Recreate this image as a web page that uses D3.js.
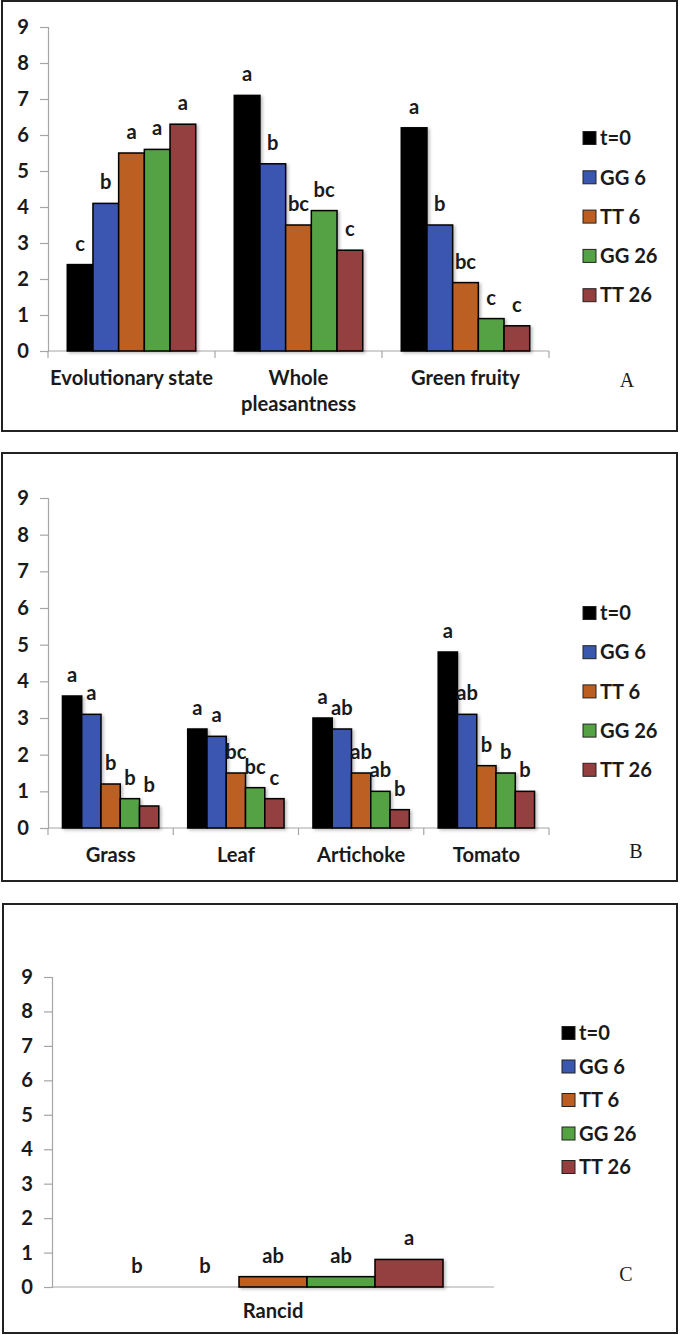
<!DOCTYPE html>
<html>
<head>
<meta charset="utf-8">
<script src="https://cdn.jsdelivr.net/npm/d3@7"></script>
<style>
  html, body { margin: 0; padding: 0; background: #fff; }
  svg { display: block; }
  text { font-family: Lato, "Open Sans", "DejaVu Sans", sans-serif; font-weight: 700; }
</style>
</head>
<body>
<svg id="chart" width="680" height="1335"></svg>
<script>
// ---------- DATA ----------
const seriesNames = ["t=0", "GG 6", "TT 6", "GG 26", "TT 26"];
const yTicks = [0, 1, 2, 3, 4, 5, 6, 7, 8, 9];

// Panel A
const categoriesA = ["Evolutionary state", "Whole\npleasantness", "Green fruity"];
const valuesA = [
  [2.4, 7.1, 6.2],   // t=0
  [4.1, 5.2, 3.5],   // GG 6
  [5.5, 3.5, 1.9],   // TT 6
  [5.6, 3.9, 0.9],   // GG 26
  [6.3, 2.8, 0.7]    // TT 26
];
const lettersA = [
  ["c", "a", "a"],
  ["b", "b", "b"],
  ["a", "bc", "bc"],
  ["a", "bc", "c"],
  ["a", "c", "c"]
];

// Panel B
const categoriesB = ["Grass", "Leaf", "Artichoke", "Tomato"];
const valuesB = [
  [3.6, 2.7, 3.0, 4.8],
  [3.1, 2.5, 2.7, 3.1],
  [1.2, 1.5, 1.5, 1.7],
  [0.8, 1.1, 1.0, 1.5],
  [0.6, 0.8, 0.5, 1.0]
];
const lettersB = [
  ["a", "a", "a", "a"],
  ["a", "a", "ab", "ab"],
  ["b", "bc", "ab", "b"],
  ["b", "bc", "ab", "b"],
  ["b", "c", "b", "b"]
];

// Panel C
const categoriesC = ["Rancid"];
const valuesC = [[0], [0], [0.3], [0.3], [0.8]];
const lettersC = [["b"], ["b"], ["ab"], ["ab"], ["a"]];

// ---------- STYLE ----------
const seriesColors = ["#000000", "#3a57b0", "#bb5e20", "#55a244", "#943f3f"];
const axisColor = "#a6a6a6";
const textColor = "#1a1a1a";

const svg = d3.select("#chart");

// pick a font size so that the widest category label matches the original's width
const probe = svg.append("text").style("font-size", "20px").text("Evolutionary state");
const probeW = probe.node().getComputedTextLength() || 163;
probe.remove();
const FS = Math.max(16, Math.min(22, 20 * 163 / probeW));
const fs = FS + "px";

const defs = svg.append("defs");
const f = defs.append("filter").attr("id", "shadow")
  .attr("x", "-20%").attr("y", "-20%").attr("width", "150%").attr("height", "150%");
f.append("feDropShadow").attr("dx", 2).attr("dy", 1.5).attr("stdDeviation", 1.5)
  .attr("flood-color", "#000").attr("flood-opacity", 0.25);

function drawPanel(cfg) {
  const g = svg.append("g");

  // frame
  g.append("rect")
    .attr("x", cfg.frame[0]).attr("y", cfg.frame[1])
    .attr("width", cfg.frame[2]).attr("height", cfg.frame[3])
    .attr("fill", "none").attr("stroke", "#222").attr("stroke-width", 2);

  const y = d3.scaleLinear().domain([0, 9]).range([cfg.y0, cfg.y9]);
  const x0 = d3.scaleBand().domain(cfg.categories).range([cfg.xLeft, cfg.xRight]).padding(0);
  const bw = x0.bandwidth();
  const gap = bw * 1.5 / 6.5;
  const x1 = d3.scaleBand().domain(seriesNames).range([gap / 2, bw - gap / 2]).padding(0);

  // y axis
  const yAxis = d3.axisLeft(y).tickValues(yTicks).tickSize(8).tickPadding(11).tickFormat(d3.format("d"));
  const ya = g.append("g").attr("transform", `translate(${cfg.xLeft},0)`).call(yAxis);
  ya.select(".domain").attr("stroke", axisColor).attr("stroke-width", 1.2);
  ya.selectAll(".tick line").attr("stroke", axisColor).attr("stroke-width", 1.2);
  ya.selectAll(".tick text")
    .attr("fill", textColor)
    .style("font-family", "Lato, 'Open Sans', sans-serif")
    .style("font-size", fs).style("font-weight", "700");

  // x axis baseline
  const xa = g.append("g").attr("transform", `translate(0,${cfg.y0})`);
  xa.append("line").attr("x1", cfg.xLeft).attr("x2", cfg.xRight)
    .attr("stroke", axisColor).attr("stroke-width", 1.2);
  if (cfg.xTicks) {
    const bounds = cfg.categories.map(c => x0(c)).concat([cfg.xRight]);
    xa.selectAll("line.tk").data(bounds).join("line").attr("class", "tk")
      .attr("x1", d => d).attr("x2", d => d).attr("y1", 0).attr("y2", 7)
      .attr("stroke", axisColor).attr("stroke-width", 1.2);
  }

  // bars
  const barData = [];
  cfg.values.forEach((arr, si) => {
    arr.forEach((v, ci) => {
      barData.push({ s: seriesNames[si], si, c: cfg.categories[ci], v, letter: cfg.letters[si][ci] });
    });
  });

  g.append("g").attr("filter", "url(#shadow)")
    .selectAll("rect").data(barData.filter(d => d.v > 0)).join("rect")
    .attr("x", d => x0(d.c) + x1(d.s))
    .attr("y", d => y(d.v))
    .attr("width", x1.bandwidth())
    .attr("height", d => y(0) - y(d.v))
    .attr("fill", d => seriesColors[d.si])
    .attr("stroke", "#000").attr("stroke-width", 1.5);

  // letters
  g.append("g").selectAll("text").data(barData).join("text")
    .attr("x", d => x0(d.c) + x1(d.s) + x1.bandwidth() / 2)
    .attr("y", d => y(d.v) - 14)
    .attr("text-anchor", "middle")
    .attr("fill", textColor)
    .style("font-size", fs)
    .text(d => d.letter);

  // category labels
  const cl = g.append("g").selectAll("text").data(cfg.categories).join("text")
    .attr("x", d => x0(d) + bw / 2)
    .attr("y", cfg.catY)
    .attr("text-anchor", "middle")
    .attr("fill", textColor)
    .style("font-size", fs);
  cl.each(function (d) {
    const lines = d.split("\n");
    const t = d3.select(this);
    lines.forEach((ln, i) => {
      t.append("tspan").attr("x", x0(d) + bw / 2).attr("dy", i === 0 ? 0 : 26).text(ln);
    });
  });

  // legend
  const lg = g.append("g");
  seriesNames.forEach((s, i) => {
    const cy = cfg.legY + i * cfg.legStep;
    lg.append("rect").attr("x", cfg.legX).attr("y", cy - 6.5).attr("width", 13).attr("height", 13)
      .attr("fill", seriesColors[i]).attr("stroke", "#222").attr("stroke-width", 1);
    lg.append("text").attr("x", cfg.legX + 17).attr("y", cy).attr("dy", "0.36em")
      .attr("fill", textColor)
      .style("font-size", fs)
      .text(s);
  });

  // panel letter
  g.append("text").attr("x", cfg.tag[0]).attr("y", cfg.tag[1]).attr("dy", "0.35em")
    .attr("text-anchor", "middle")
    .attr("fill", textColor)
    .style("font-family", "'Liberation Serif', 'DejaVu Serif', serif")
    .style("font-weight", "400")
    .style("font-size", "20px")
    .text(cfg.tagText);
}

drawPanel({
  frame: [2, 1, 675, 430],
  categories: categoriesA, values: valuesA, letters: lettersA,
  xLeft: 48, xRight: 549, y9: 27, y0: 351, xTicks: true,
  catY: 385,
  legX: 583, legY: 138, legStep: 39.3,
  tag: [627, 380], tagText: "A"
});

drawPanel({
  frame: [2, 453, 675, 428],
  categories: categoriesB, values: valuesB, letters: lettersB,
  xLeft: 48, xRight: 549, y9: 498, y0: 828, xTicks: true,
  catY: 862,
  legX: 583, legY: 613, legStep: 39.2,
  tag: [636, 851], tagText: "B"
});

drawPanel({
  frame: [3, 904, 674, 429],
  categories: categoriesC, values: valuesC, letters: lettersC,
  xLeft: 52, xRight: 494, y9: 977, y0: 1287, xTicks: false,
  catY: 1318,
  legX: 562, legY: 1033, legStep: 33.5,
  tag: [626, 1274], tagText: "C"
});
</script>
</body>
</html>
